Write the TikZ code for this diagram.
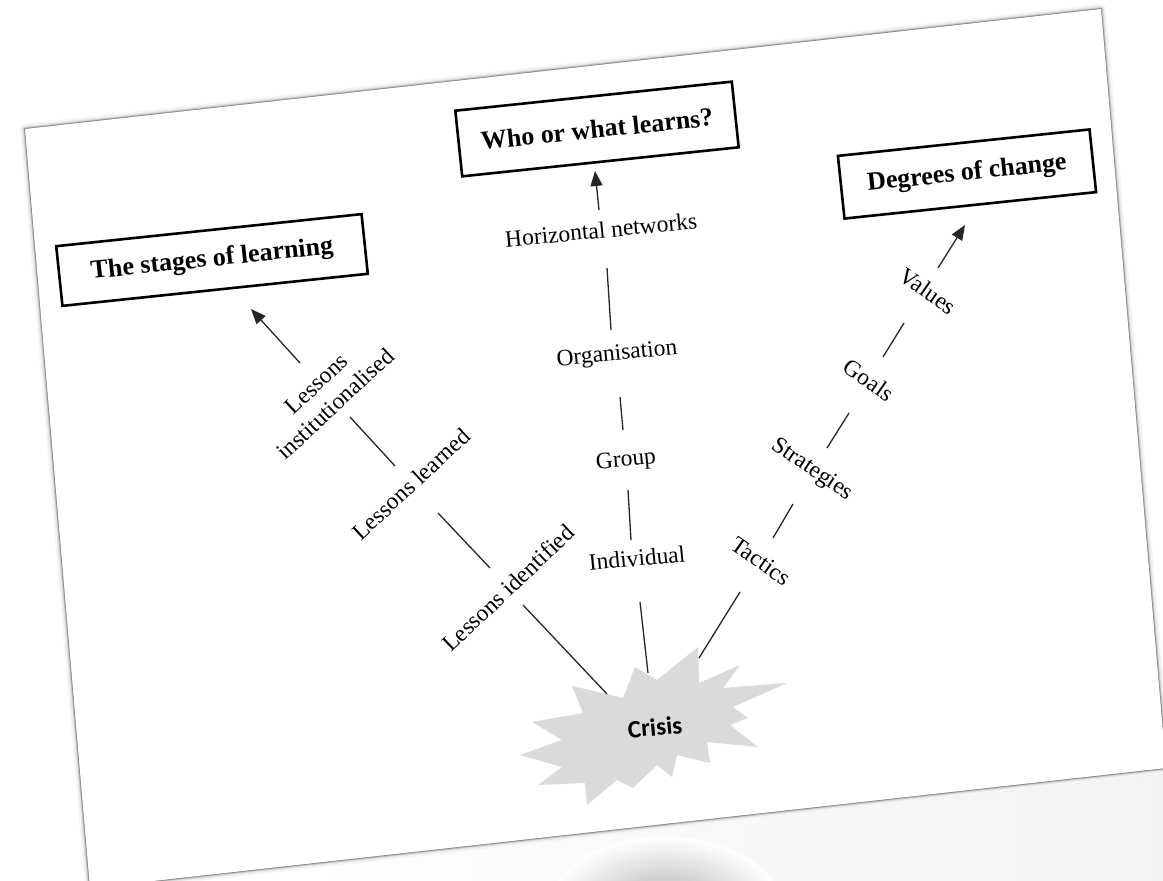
\documentclass[tikz,border=0pt]{standalone}
\usepackage{fontspec}
\setmainfont{Liberation Serif}
\newfontfamily\crisisfont{Carlito}
\usetikzlibrary{arrows.meta}

\definecolor{burstgray}{RGB}{218,217,219}

\tikzset{
  titlebox/.style={draw, line width=2.6pt, rotate=6, inner sep=0pt,
    font=\fontsize{26}{30}\selectfont\bfseries},
  lab/.style={inner sep=1pt, font=\fontsize{23.5}{28}\selectfont},
  link/.style={line width=1.3pt, draw=black!85},
  uparrow/.style={link, -{Triangle[length=15pt,width=12pt]}},
}

\begin{document}
\begin{tikzpicture}[x=1pt,y=-1pt]
\useasboundingbox (0,0) rectangle (1163,881);

% faint floor below the sheet, fading out to the left
\shade[left color=white, right color=black!5] (300,870) -- (1175,772) -- (1175,881) -- (300,881) -- cycle;
\begin{scope}
  \clip (0,0) rectangle (1163,881);
  \shade[inner color=black!30, outer color=white] (665,905) ellipse (115 and 68);
\end{scope}

% the tilted sheet with its shadow
\foreach \w/\o in {10/0.04, 6/0.07, 3.5/0.13, 1.8/0.3}
  \draw[black, line width=\w pt, opacity=\o, line join=round]
    (25,129) -- (1101,9) -- (1166,768) -- (90,888) -- cycle;
\fill[white] (25,129) -- (1101,9) -- (1166,768) -- (90,888) -- cycle;

% title boxes
\node[titlebox, minimum width=307pt, minimum height=60pt] (stages) at (212,260) {The stages of learning};
\node[titlebox, minimum width=278pt, minimum height=66pt] (who) at (597,129) {Who or what learns?};
\node[titlebox, minimum width=253pt, minimum height=63pt] (degrees) at (967,174) {Degrees of change};

% crisis burst
\fill[burstgray] (520,755) -- (562,740) -- (532,722) -- (583,713) -- (572,686) -- (607,694)
  -- (623,698) -- (635,667) -- (657,680) -- (698,647) -- (699,683) -- (740,665)
  -- (723,688) -- (787,683) -- (733,707) -- (748,718) -- (730,725) -- (758,747)
  -- (707,742) -- (710,763) -- (677,755) -- (672,777) -- (657,765) -- (633,788)
  -- (617,780) -- (587,805) -- (585,783) -- (538,785) -- (562,767) -- cycle;
\node[inner sep=0pt, rotate=5, font=\crisisfont\bfseries\fontsize{25}{30}\selectfont] (crisis) at (655,727) {Crisis};

% left branch: stages of learning
\node[lab, rotate=43, align=center] (linst) at (326,394) {Lessons\\institutionalised};
\node[lab, rotate=43] (llearn) at (411,484) {Lessons learned};
\node[lab, rotate=43.5] (lident) at (508,588) {Lessons identified};

% middle branch: who or what learns
\node[lab, rotate=5.5] (horiz) at (601,230) {Horizontal networks};
\node[lab, rotate=5.5] (org) at (617,355) {Organisation};
\node[lab, rotate=5.5] (grp) at (626,461) {Group};
\node[lab, rotate=5.5] (ind) at (637,558) {Individual};

% right branch: degrees of change
\node[lab, rotate=-35] (tac) at (761,561) {Tactics};
\node[lab, rotate=-34] (str) at (812,470) {Strategies};
\node[lab, rotate=-35] (goal) at (869,380) {Goals};
\node[lab, rotate=-35] (val) at (928,291) {Values};

% segment end points
\coordinate (la0) at (300,363); \coordinate (la1) at (251,309);
\coordinate (lb0) at (350,417); \coordinate (lb1) at (395,466);
\coordinate (lc0) at (438,513); \coordinate (lc1) at (490,568);
\coordinate (ld0) at (523,605); \coordinate (ld1) at (607,694);

\coordinate (ma0) at (599,210); \coordinate (ma1) at (595,171);
\coordinate (mb0) at (607,268); \coordinate (mb1) at (611,330);
\coordinate (mc0) at (620,397); \coordinate (mc1) at (623,430);
\coordinate (md0) at (628,490); \coordinate (md1) at (631,540);
\coordinate (me0) at (640,602); \coordinate (me1) at (648,673);

\coordinate (ra0) at (938,268); \coordinate (ra1) at (965,225);
\coordinate (rb0) at (883,357); \coordinate (rb1) at (904,323);
\coordinate (rc0) at (827,448); \coordinate (rc1) at (849,413);
\coordinate (rd0) at (773,538); \coordinate (rd1) at (793,504);
\coordinate (re0) at (699,658); \coordinate (re1) at (740,592);

% connectors
\draw[uparrow] (la0) -- (la1);
\draw[link] (lb0) -- (lb1);
\draw[link] (lc0) -- (lc1);
\draw[link] (ld0) -- (ld1);

\draw[uparrow] (ma0) -- (ma1);
\draw[link] (mb0) -- (mb1);
\draw[link] (mc0) -- (mc1);
\draw[link] (md0) -- (md1);
\draw[link] (me0) -- (me1);

\draw[uparrow] (ra0) -- (ra1);
\draw[link] (rb0) -- (rb1);
\draw[link] (rc0) -- (rc1);
\draw[link] (rd0) -- (rd1);
\draw[link] (re0) -- (re1);
\end{tikzpicture}
\end{document}
